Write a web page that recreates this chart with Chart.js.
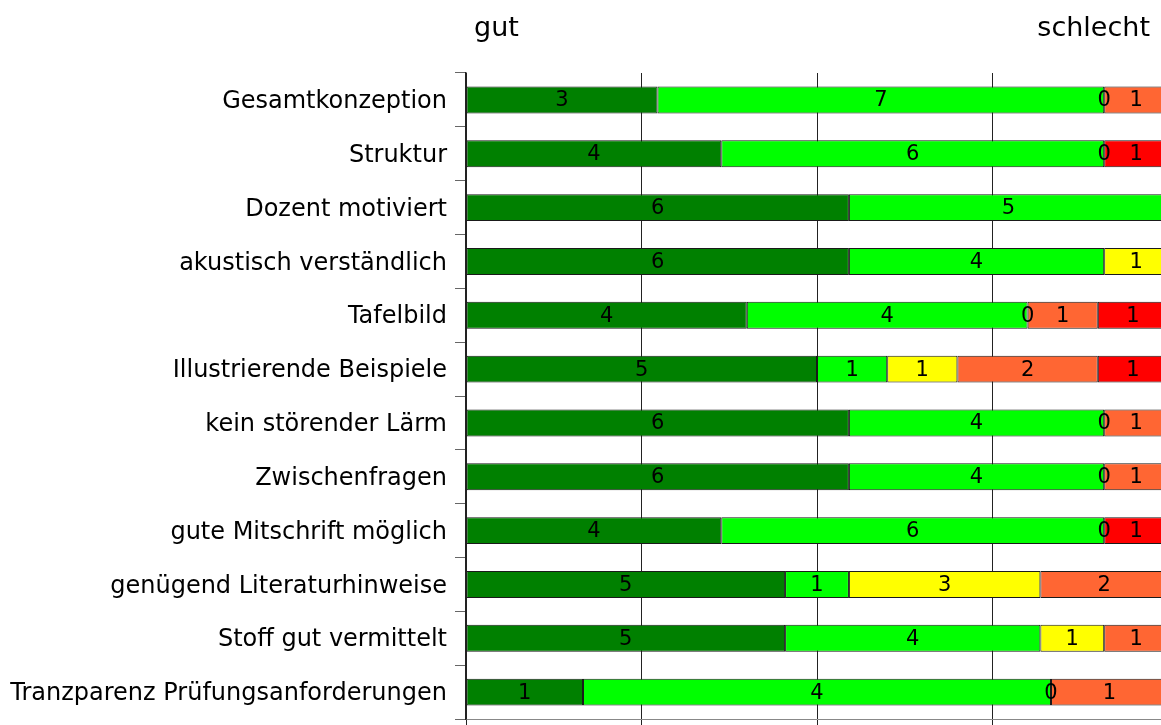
<!DOCTYPE html>
<html>
<head>
<meta charset="utf-8">
<script src="https://cdn.jsdelivr.net/npm/chart.js@4.4.1/dist/chart.umd.min.js"></script>
<style>
  body { margin: 0; background: #fff; }
  #wrap { width: 1161px; height: 725px; overflow: hidden; position: relative; }
  #barChart { position: absolute; left: 0; top: 0; }
</style>
</head>
<body>
<div id="wrap"><canvas id="barChart" width="1200" height="760"></canvas></div>
<script>
// categories (top to bottom) and answer counts per rating, gut -> schlecht
var categories = [
    'Gesamtkonzeption',
    'Struktur',
    'Dozent motiviert',
    'akustisch verständlich',
    'Tafelbild',
    'Illustrierende Beispiele',
    'kein störender Lärm',
    'Zwischenfragen',
    'gute Mitschrift möglich',
    'genügend Literaturhinweise',
    'Stoff gut vermittelt',
    'Tranzparenz Prüfungsanforderungen'
];
var sehrGut   = [3, 4, 6, 6, 4, 5, 6, 6, 4, 5, 5, 1];
var gut       = [7, 6, 5, 4, 4, 1, 4, 4, 6, 1, 4, 4];
var mittel    = [0, 0, null, 1, 0, 1, 0, 0, 0, 3, 1, 0];
var schlecht  = [1, null, null, null, 1, 2, 1, 1, null, 2, 1, 1];
var sehrSchl  = [null, 1, null, null, 1, 1, null, null, 1, null, null, null];

var seriesCounts = [sehrGut, gut, mittel, schlecht, sehrSchl];
var seriesColors = ['#008000', '#00ff00', '#ffff00', '#ff6633', '#ff0000'];

// share of each answer within its row, in percent
var totals = categories.map(function (c, i) {
    return seriesCounts.reduce(function (s, arr) { return s + (arr[i] || 0); }, 0);
});
var datasets = seriesCounts.map(function (arr, k) {
    return {
        data: arr.map(function (v, i) { return v === null ? null : v / totals[i] * 100; }),
        counts: arr,
        backgroundColor: seriesColors[k],
        borderColor: '#1a1a1a',
        borderWidth: 1,
        borderSkipped: false,
        barPercentage: 0.5,
        categoryPercentage: 1.0
    };
});

Chart.defaults.font.family = "'DejaVu Sans', sans-serif";
Chart.defaults.color = '#000';

// write the counts into the bar segments
var countLabels = {
    id: 'countLabels',
    afterDatasetsDraw: function (chart) {
        var ctx = chart.ctx;
        ctx.save();
        ctx.font = "21px 'DejaVu Sans'";
        ctx.fillStyle = '#000';
        ctx.textAlign = 'center';
        ctx.textBaseline = 'middle';
        chart.data.datasets.forEach(function (ds, k) {
            chart.getDatasetMeta(k).data.forEach(function (bar, i) {
                if (ds.counts[i] === null) return;
                var p = bar.getCenterPoint();
                ctx.fillText(String(ds.counts[i]), p.x, p.y + 1);
            });
        });
        ctx.restore();
    }
};

// "gut" / "schlecht" above the plot
var endLabels = {
    id: 'endLabels',
    afterDraw: function (chart) {
        var ctx = chart.ctx, area = chart.chartArea;
        ctx.save();
        ctx.font = "27px 'DejaVu Sans'";
        ctx.fillStyle = '#000';
        ctx.textBaseline = 'alphabetic';
        ctx.textAlign = 'left';
        ctx.fillText('gut', area.left + 8, 36);
        ctx.textAlign = 'right';
        ctx.fillText('schlecht', area.right - 18, 36);
        ctx.restore();
    }
};

var ctx = document.getElementById('barChart').getContext('2d');
var barChart = new Chart(ctx, {
    type: 'bar',
    data: { labels: categories, datasets: datasets },
    plugins: [countLabels, endLabels],
    options: {
        indexAxis: 'y',
        responsive: false,
        animation: false,
        layout: { padding: { top: 73, right: 32, left: 0, bottom: 0 } },
        plugins: { legend: { display: false }, tooltip: { enabled: false } },
        scales: {
            x: {
                stacked: true,
                min: 0,
                max: 100,
                ticks: { display: false, stepSize: 25 },
                grid: { color: '#222', lineWidth: 1, tickLength: 8 },
                border: { color: '#888', width: 1 },
                afterFit: function (scale) { scale.height = 41; }
            },
            y: {
                stacked: true,
                ticks: { font: { size: 24 }, color: '#000', padding: 8, labelOffset: 2 },
                grid: { offset: true, drawOnChartArea: false, tickLength: 11, color: '#666' },
                border: { color: '#222', width: 1.5 },
                afterFit: function (scale) { scale.width = 466; }
            }
        }
    }
});
</script>
</body>
</html>
